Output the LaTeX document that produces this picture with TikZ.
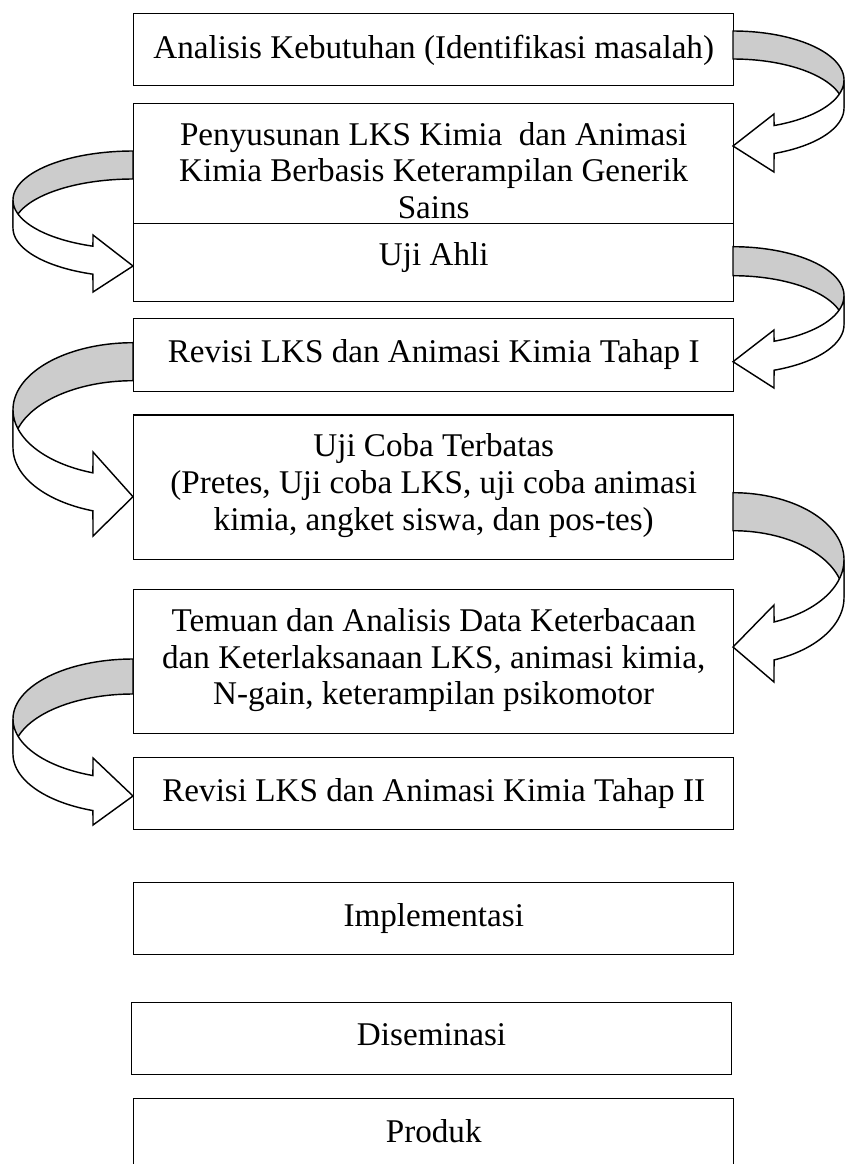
\documentclass[tikz,border=0pt]{standalone}
\usepackage{fontspec}
\setmainfont{Liberation Serif}
\usetikzlibrary{calc}
\newcommand\upx{0.3846pt}
\definecolor{bandgray}{RGB}{204,204,204}
\tikzset{
  box/.style={draw, line width=0.55pt, inner sep=0pt, anchor=north west},
  txt/.style={anchor=north, inner sep=0pt, align=center, font=\fontsize{12.75}{14.1}\selectfont},
  band/.style={draw, line width=0.55pt, line join=miter}
}
% right-hand curved arrow: cx, c, b, t, headtop, headbot, tip
\newcommand\rarr[7]{%
 \draw[band, fill=bandgray] plot[domain=90:0, samples=60] ({#1+111*cos(\x)},{#2-#3*sin(\x)})
   -- plot[domain=0:90, samples=60] ({#1+111*cos(\x)},{#2+#4-#3*sin(\x)}) -- cycle;
 \draw[band, fill=white] plot[domain=0:-68.3, samples=60] ({#1+111*cos(\x)},{#2-#3*sin(\x)})
   -- (#1+41,#5) -- (#1,#7) -- (#1+41,#6)
   -- plot[domain=-68.3:0, samples=60] ({#1+111*cos(\x)},{#2+#4-#3*sin(\x)}) -- cycle;
}
% left-hand curved arrow
\newcommand\larr[7]{%
 \draw[band, fill=bandgray] plot[domain=90:180, samples=60] ({#1+120*cos(\x)},{#2-#3*sin(\x)})
   -- plot[domain=180:90, samples=60] ({#1+120*cos(\x)},{#2+#4-#3*sin(\x)}) -- cycle;
 \draw[band, fill=white] plot[domain=180:250.5, samples=60] ({#1+120*cos(\x)},{#2-#3*sin(\x)})
   -- (#1-40,#5) -- (#1,#7) -- (#1-40,#6)
   -- plot[domain=250.5:180, samples=60] ({#1+120*cos(\x)},{#2+#4-#3*sin(\x)}) -- cycle;
}
\begin{document}
\begin{tikzpicture}[x=0.3846pt, y=-0.3846pt]
\useasboundingbox[fill=white] (0,0) rectangle (844,1164);

\node[box, minimum width=600*\upx, minimum height=72*\upx] (b1) at (133,13) {};
\node[box, minimum width=600*\upx, minimum height=120.3*\upx] (b2) at (133,102.7) {};
\node[box, minimum width=600*\upx, minimum height=77.7*\upx] (b3) at (133,223) {};
\node[box, minimum width=600*\upx, minimum height=72.7*\upx] (b4) at (133,318) {};
\node[box, minimum width=600*\upx, minimum height=144.7*\upx] (b5) at (133,414.3) {};
\node[box, minimum width=600*\upx, minimum height=143.7*\upx] (b6) at (133,589) {};
\node[box, minimum width=600*\upx, minimum height=72.3*\upx] (b7) at (133,756.7) {};
\node[box, minimum width=600*\upx, minimum height=72*\upx] (b8) at (133,882) {};
\node[box, minimum width=600.3*\upx, minimum height=72.3*\upx] (b9) at (130.7,1001.7) {};
\node[box, minimum width=600*\upx, minimum height=80*\upx] (b10) at (133,1097.7) {};

\node[txt] (t1) at ($(b1.north)+(0,22)$) {Analisis Kebutuhan (Identifikasi masalah)};
\node[txt] (t2) at ($(b2.north)+(0,19)$) {Penyusunan LKS Kimia~ dan Animasi\\Kimia Berbasis Keterampilan Generik\\Sains};
\node[txt] (t3) at ($(b3.north)+(0,19)$) {Uji Ahli};
\node[txt] (t4) at ($(b4.north)+(0,21)$) {Revisi LKS dan Animasi Kimia Tahap I};
\node[txt] (t5) at ($(b5.north)+(0,19)$) {Uji Coba Terbatas\\(Pretes, Uji coba LKS, uji coba animasi\\kimia, angket siswa, dan pos-tes)};
\node[txt] (t6) at ($(b6.north)+(0,19)$) {Temuan dan Analisis Data Keterbacaan\\dan Keterlaksanaan LKS, animasi kimia,\\N-gain, keterampilan psikomotor};
\node[txt] (t7) at ($(b7.north)+(0,21)$) {Revisi LKS dan Animasi Kimia Tahap II};
\node[txt] (t8) at ($(b8.north)+(0,21)$) {Implementasi};
\node[txt] (t9) at ($(b9.north)+(0,21)$) {Diseminasi};
\node[txt] (t10) at ($(b10.north)+(0,21)$) {Produk};

\rarr{733}{80}{49}{28}{114}{172}{146}
\larr{133}{200}{49}{28}{235}{292}{266}
\rarr{733}{295.7}{49}{29}{330}{388}{361.7}
\larr{133}{409.7}{67}{38}{452}{536}{496.7}
\rarr{733}{559.7}{67}{38}{605}{682}{647}
\larr{133}{719}{60}{35}{758}{825}{796}
\end{tikzpicture}
\end{document}
